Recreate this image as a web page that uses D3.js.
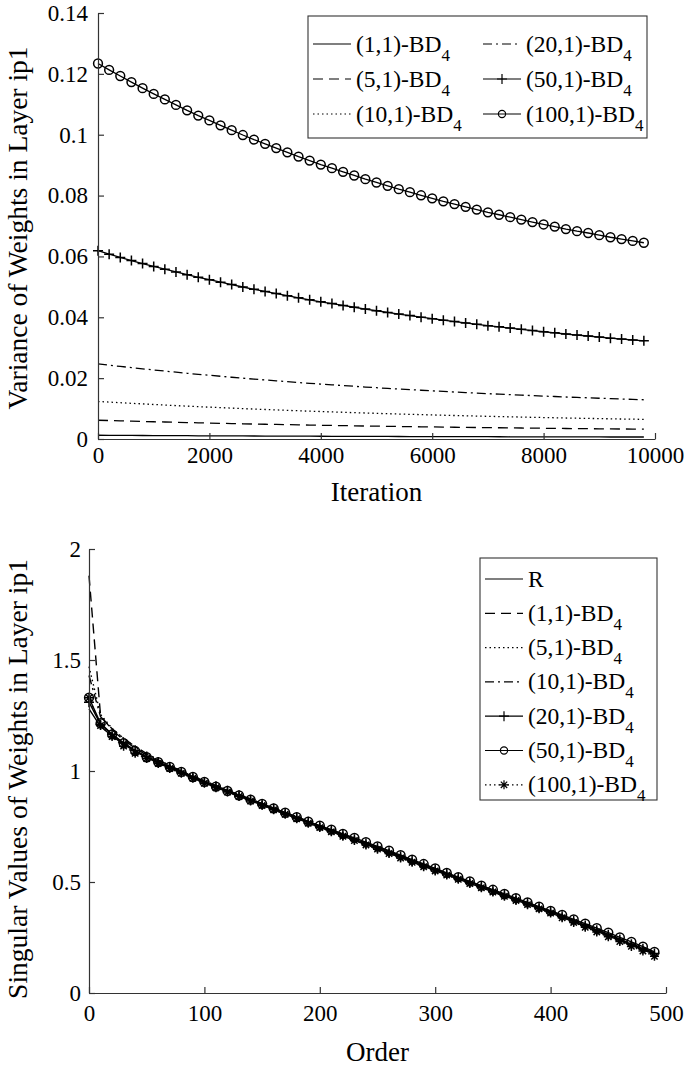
<!DOCTYPE html>
<html><head><meta charset="utf-8">
<script src="https://cdn.jsdelivr.net/npm/d3@7"></script>
<style>
html,body{margin:0;padding:0;background:#fff;}
</style></head>
<body>
<svg id="c" width="685" height="1068"></svg>
<script>
// ---------- Top chart data (iterations 0..9800 every 200) ----------
const topIterations = d3.range(0, 9801, 200);
const topXTicks = [0, 2000, 4000, 6000, 8000, 10000];
const topYTicks = [0, 0.02, 0.04, 0.06, 0.08, 0.1, 0.12, 0.14];
const topYTickLabels = ["0", "0.02", "0.04", "0.06", "0.08", "0.1", "0.12", "0.14"];

const var1 = [0.00123,0.00121,0.00119,0.00117,0.00115,0.00113,0.00112,0.0011,0.00108,0.00106,0.00105,0.00103,0.00102,0.001,0.00098,0.00097,0.00096,0.00094,0.00093,0.00092,0.0009,0.00089,0.00088,0.00087,0.00085,0.00084,0.00083,0.00082,0.00081,0.0008,0.00079,0.00078,0.00077,0.00076,0.00075,0.00075,0.00074,0.00073,0.00072,0.00071,0.00071,0.0007,0.00069,0.00068,0.00068,0.00067,0.00066,0.00066,0.00065,0.00065];
const var5 = [0.00617,0.00607,0.00597,0.00587,0.00577,0.00567,0.00558,0.00549,0.0054,0.00532,0.00524,0.00516,0.00508,0.005,0.00492,0.00485,0.00478,0.00471,0.00464,0.00458,0.00451,0.00445,0.00439,0.00433,0.00427,0.00422,0.00416,0.00411,0.00406,0.00401,0.00396,0.00391,0.00386,0.00382,0.00377,0.00373,0.00369,0.00365,0.00361,0.00357,0.00353,0.00349,0.00345,0.00342,0.00339,0.00335,0.00332,0.00329,0.00326,0.00323];
const var10 = [0.01234,0.01213,0.01193,0.01173,0.01153,0.01134,0.01116,0.01098,0.0108,0.01063,0.01047,0.01031,0.01015,0.00999,0.00984,0.0097,0.00956,0.00942,0.00928,0.00915,0.00902,0.0089,0.00878,0.00866,0.00854,0.00843,0.00832,0.00821,0.00811,0.00801,0.00791,0.00781,0.00772,0.00763,0.00754,0.00745,0.00737,0.00729,0.00721,0.00713,0.00705,0.00698,0.0069,0.00683,0.00677,0.0067,0.00663,0.00657,0.00651,0.00645];
const var20 = [0.02468,0.02426,0.02386,0.02346,0.02306,0.02268,0.02232,0.02196,0.0216,0.02126,0.02094,0.02062,0.0203,0.01998,0.01968,0.0194,0.01912,0.01884,0.01856,0.0183,0.01804,0.0178,0.01756,0.01732,0.01708,0.01686,0.01664,0.01642,0.01622,0.01602,0.01582,0.01562,0.01544,0.01526,0.01508,0.0149,0.01474,0.01458,0.01442,0.01426,0.0141,0.01396,0.0138,0.01366,0.01354,0.0134,0.01326,0.01314,0.01302,0.0129];
const var50 = [0.0619,0.06075,0.05965,0.05865,0.05765,0.0567,0.0558,0.0549,0.054,0.05315,0.05235,0.05155,0.05075,0.04995,0.0492,0.0485,0.0478,0.0471,0.0464,0.04575,0.0451,0.0445,0.0439,0.0433,0.0427,0.04215,0.0416,0.04105,0.04055,0.04005,0.03955,0.03905,0.0386,0.03815,0.0377,0.03725,0.03685,0.03645,0.03605,0.03565,0.03525,0.0349,0.0345,0.03415,0.03385,0.0335,0.03315,0.03285,0.03255,0.03225];
const var100 = [0.1234,0.1213,0.1193,0.1173,0.1153,0.1134,0.1116,0.1098,0.108,0.1063,0.1047,0.1031,0.1015,0.0999,0.0984,0.097,0.0956,0.0942,0.0928,0.0915,0.0902,0.089,0.0878,0.0866,0.0854,0.0843,0.0832,0.0821,0.0811,0.0801,0.0791,0.0781,0.0772,0.0763,0.0754,0.0745,0.0737,0.0729,0.0721,0.0713,0.0705,0.0698,0.069,0.0683,0.0677,0.067,0.0663,0.0657,0.0651,0.0645];

// ---------- Bottom chart data (order 0..490 every 10) ----------
const orders = d3.range(0, 491, 10);
const botXTicks = [0, 100, 200, 300, 400, 500];
const botYTicks = [0, 0.5, 1, 1.5, 2];
const botYTickLabels = ["0", "0.5", "1", "1.5", "2"];

const svR = [1.28,1.2,1.158,1.12,1.088,1.06,1.036,1.013,0.991,0.968,0.946,0.926,0.906,0.886,0.866,0.846,0.826,0.806,0.786,0.766,0.746,0.727,0.707,0.688,0.668,0.649,0.629,0.61,0.59,0.571,0.551,0.532,0.513,0.494,0.475,0.456,0.437,0.418,0.399,0.38,0.361,0.341,0.32,0.299,0.278,0.257,0.236,0.215,0.194,0.174];
const sv1 = [1.88,1.25,1.185,1.14,1.103,1.072,1.046,1.022,0.999,0.976,0.954,0.933,0.913,0.893,0.873,0.853,0.833,0.813,0.793,0.773,0.753,0.734,0.714,0.695,0.675,0.656,0.636,0.617,0.597,0.578,0.558,0.539,0.52,0.501,0.482,0.463,0.444,0.425,0.406,0.387,0.368,0.348,0.327,0.306,0.285,0.264,0.243,0.222,0.201,0.18];
const sv5 = [1.47,1.255,1.192,1.147,1.108,1.077,1.05,1.025,1.001,0.978,0.956,0.935,0.915,0.894,0.874,0.854,0.834,0.814,0.794,0.774,0.754,0.735,0.715,0.696,0.676,0.657,0.637,0.618,0.598,0.579,0.559,0.54,0.521,0.502,0.483,0.464,0.445,0.426,0.407,0.388,0.369,0.349,0.328,0.307,0.286,0.265,0.244,0.223,0.202,0.181];
const sv10 = [1.43,1.245,1.19,1.148,1.11,1.078,1.05,1.025,1.0,0.976,0.954,0.933,0.913,0.892,0.872,0.852,0.832,0.812,0.792,0.772,0.752,0.733,0.713,0.694,0.674,0.655,0.635,0.616,0.596,0.577,0.557,0.538,0.519,0.5,0.481,0.462,0.443,0.424,0.405,0.386,0.367,0.347,0.326,0.305,0.284,0.263,0.242,0.221,0.2,0.179];
const sv20 = [1.31,1.21,1.165,1.127,1.093,1.065,1.041,1.018,0.996,0.973,0.951,0.931,0.911,0.891,0.871,0.851,0.831,0.811,0.791,0.771,0.751,0.732,0.712,0.693,0.673,0.654,0.634,0.615,0.595,0.576,0.556,0.537,0.518,0.499,0.48,0.461,0.442,0.423,0.404,0.385,0.366,0.346,0.325,0.304,0.283,0.262,0.241,0.22,0.199,0.178];
const sv50 = [1.33,1.215,1.165,1.125,1.09,1.062,1.04,1.018,0.996,0.973,0.951,0.93,0.91,0.89,0.871,0.852,0.832,0.812,0.792,0.772,0.754,0.736,0.717,0.699,0.68,0.66,0.641,0.621,0.601,0.581,0.561,0.541,0.522,0.503,0.484,0.465,0.446,0.427,0.408,0.389,0.37,0.352,0.332,0.312,0.292,0.272,0.251,0.23,0.209,0.185];
const sv100 = [1.33,1.205,1.155,1.112,1.08,1.056,1.034,1.011,0.99,0.967,0.945,0.925,0.905,0.885,0.865,0.845,0.825,0.805,0.785,0.765,0.745,0.726,0.706,0.687,0.667,0.648,0.628,0.608,0.589,0.569,0.55,0.531,0.512,0.493,0.474,0.455,0.436,0.417,0.398,0.379,0.36,0.339,0.318,0.296,0.275,0.253,0.232,0.21,0.189,0.165];

// ---------- styles ----------
const FONT = "'Liberation Serif', Tinos, 'Times New Roman', Times, 'DejaVu Serif', serif";
const DASH = {solid:null, dashed:"10,6", dotted:"1.5,3", dashdot:"9,4,2,4"};
const MARK = {
  plus: "M-5,0H5M0,-5V5",
  star: "M-4.5,0H4.5M0,-4.5V4.5M-3.2,-3.2L3.2,3.2M-3.2,3.2L3.2,-3.2"
};
const AXIS_COL = "#333";

const topSeries = [
  {name:"(1,1)-BD", sub:"4", vals:var1,  dash:"solid",  mark:null},
  {name:"(5,1)-BD", sub:"4", vals:var5,  dash:"dashed", mark:null},
  {name:"(10,1)-BD",sub:"4", vals:var10, dash:"dotted", mark:null},
  {name:"(20,1)-BD",sub:"4", vals:var20, dash:"dashdot",mark:null},
  {name:"(50,1)-BD",sub:"4", vals:var50, dash:"solid",  mark:"plus"},
  {name:"(100,1)-BD",sub:"4",vals:var100,dash:"solid",  mark:"circle"}
];
const botSeries = [
  {name:"R", sub:"", vals:svR, dash:"solid", mark:null},
  {name:"(1,1)-BD", sub:"4", vals:sv1, dash:"dashed", mark:null},
  {name:"(5,1)-BD", sub:"4", vals:sv5, dash:"dotted", mark:null},
  {name:"(10,1)-BD", sub:"4", vals:sv10, dash:"dashdot", mark:null},
  {name:"(20,1)-BD", sub:"4", vals:sv20, dash:"solid", mark:"plus"},
  {name:"(50,1)-BD", sub:"4", vals:sv50, dash:"solid", mark:"circle"},
  {name:"(100,1)-BD", sub:"4", vals:sv100, dash:"dotted", mark:"star"}
];

const svg = d3.select("#c").style("font-family", FONT);

function drawMarker(g, type, x, y, r, sw) {
  if (!type) return;
  if (type === "circle") {
    g.append("circle").attr("cx", x).attr("cy", y).attr("r", r || 4.4)
      .attr("fill", "none").attr("stroke", "#000").attr("stroke-width", sw || 1.4);
  } else {
    g.append("path").attr("d", MARK[type]).attr("transform", `translate(${x},${y})`)
      .attr("fill", "none").attr("stroke", "#000").attr("stroke-width", sw || 1.4);
  }
}

function txt(sel, size) {
  return sel.style("font-family", FONT).attr("font-size", size).attr("fill", "#000");
}

function chart(cfg) {
  const g = svg.append("g");
  const x = d3.scaleLinear().domain(cfg.xDomain).range(cfg.xRange);
  const y = d3.scaleLinear().domain(cfg.yDomain).range(cfg.yRange);

  // series
  const line = d3.line().x(d => x(d[0])).y(d => y(d[1]));
  cfg.series.forEach(s => {
    const pts = cfg.xs.map((xv, i) => [xv, s.vals[i]]);
    g.append("path").attr("d", line(pts)).attr("fill", "none")
      .attr("stroke", "#000").attr("stroke-width", cfg.lineW)
      .attr("stroke-dasharray", DASH[s.dash]);
    if (s.mark) {
      const mg = g.append("g");
      pts.forEach(p => drawMarker(mg, s.mark, x(p[0]), y(p[1]), cfg.markR, cfg.markW));
    }
  });

  // axes
  const ax = g.append("g").attr("transform", `translate(0,${cfg.yRange[0]})`)
    .call(d3.axisBottom(x).tickValues(cfg.xTicks).tickFormat(d3.format("d"))
      .tickSizeInner(-6).tickSizeOuter(0).tickPadding(cfg.xPad));
  const ay = g.append("g").attr("transform", `translate(${cfg.xRange[0]},0)`)
    .call(d3.axisLeft(y).tickValues(cfg.yTicks).tickFormat((d, i) => cfg.yLabels[i])
      .tickSizeInner(-6).tickSizeOuter(0).tickPadding(cfg.yPad));
  [ax, ay].forEach(a => {
    a.attr("font-family", null).attr("font-size", null);
    a.selectAll("path.domain").attr("stroke", AXIS_COL).attr("stroke-width", 1.2);
    a.selectAll(".tick line").attr("stroke", AXIS_COL).attr("stroke-width", 1.2);
    txt(a.selectAll("text"), 23);
  });

  // axis titles
  txt(g.append("text"), 27).attr("x", (cfg.xRange[0] + cfg.xRange[1]) / 2)
    .attr("y", cfg.xTitleY).attr("text-anchor", "middle").text(cfg.xTitle);
  txt(g.append("text"), 27.5)
    .attr("transform", `translate(${cfg.yTitleX},${cfg.yTitleCY}) rotate(-90)`)
    .attr("text-anchor", "middle").text(cfg.yTitle);

  // legend
  const L = cfg.legend;
  const lg = g.append("g");
  lg.append("rect").attr("x", L.x).attr("y", L.y).attr("width", L.w).attr("height", L.h)
    .attr("fill", "#fff").attr("stroke", AXIS_COL).attr("stroke-width", 1.1);
  cfg.series.forEach((s, i) => {
    const col = Math.floor(i / L.rows), row = i % L.rows;
    const cx = L.x + L.colX[col];
    const cy = L.y + L.row0 + row * L.rowH;
    lg.append("line").attr("x1", cx).attr("x2", cx + L.sample).attr("y1", cy).attr("y2", cy)
      .attr("stroke", "#000").attr("stroke-width", 1.2).attr("stroke-dasharray", DASH[s.dash]);
    drawMarker(lg, s.mark, cx + L.sample / 2, cy, 3.6, 1.2);
    const t = txt(lg.append("text"), 23.5).attr("x", cx + L.sample + L.gap).attr("y", cy + 7.5);
    t.append("tspan").text(s.name);
    if (s.sub) t.append("tspan").attr("font-size", 17).attr("dy", 9).text(s.sub);
  });
}

chart({
  xs: topIterations, series: topSeries,
  xDomain: [0, 10000], xRange: [98, 655],
  yDomain: [0, 0.14], yRange: [439, 13],
  xTicks: topXTicks, yTicks: topYTicks, yLabels: topYTickLabels,
  xPad: 8, yPad: 10, markR: 4.4, markW: 1.5, lineW: 1.3,
  xTitle: "Iteration", xTitleY: 501,
  yTitle: "Variance of Weights in Layer ip1", yTitleX: 27, yTitleCY: 228,
  legend: {x: 308, y: 16, w: 339, h: 122, rows: 3, colX: [5, 175], row0: 28, rowH: 35, sample: 38, gap: 5}
});

chart({
  xs: orders, series: botSeries,
  xDomain: [0, 500], xRange: [89, 666],
  yDomain: [0, 2], yRange: [993, 549],
  xTicks: botXTicks, yTicks: botYTicks, yLabels: botYTickLabels,
  xPad: 12, yPad: 8, markR: 4.4, markW: 1.5, lineW: 1.4,
  xTitle: "Order", xTitleY: 1061,
  yTitle: "Singular Values of Weights in Layer ip1", yTitleX: 27, yTitleCY: 779,
  legend: {x: 480, y: 558, w: 177, h: 242, rows: 7, colX: [5], row0: 21, rowH: 34.3, sample: 38, gap: 5}
});
</script>
</body></html>
